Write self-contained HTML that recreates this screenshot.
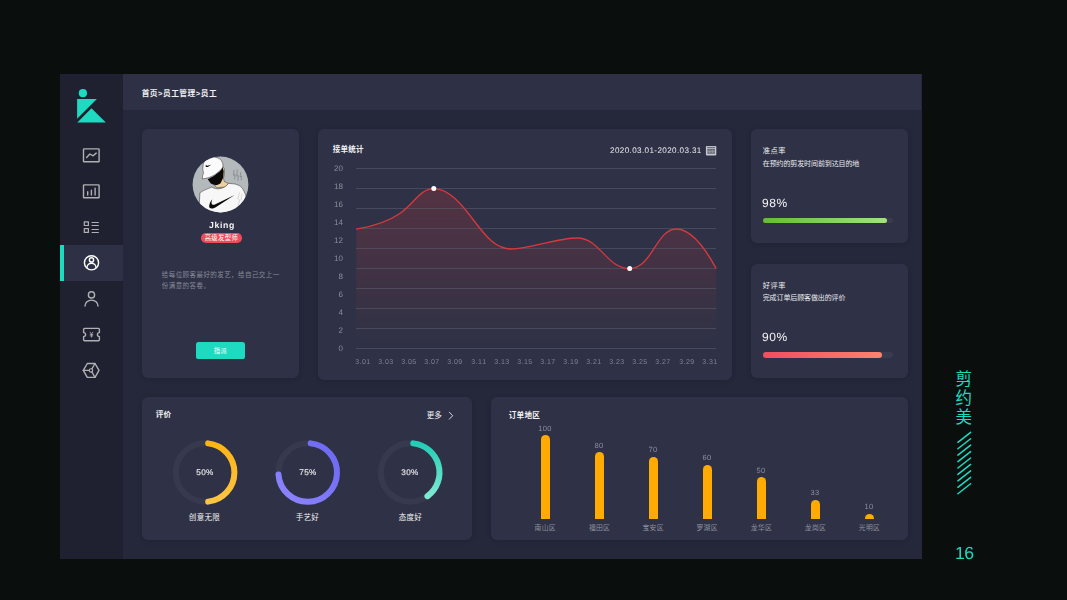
<!DOCTYPE html><html lang="zh"><head><meta charset="utf-8"><title>剪约美 员工</title><style>
*{margin:0;padding:0;box-sizing:border-box}
html,body{width:1067px;height:600px;overflow:hidden;background:#0a0f0e}
body{position:relative;font-family:"Liberation Sans",sans-serif;color:#f2f2f4}
.abs,.t{position:absolute}
svg.t{overflow:visible;display:block}
svg.t text{font-family:"Liberation Sans","Noto Sans CJK SC",sans-serif}
.dash{left:60px;top:74px;width:861.5px;height:484.7px;background:#25283a}
.side{left:60px;top:74px;width:62.7px;height:484.7px;background:#1f2130}
.head{left:122.7px;top:74px;width:798.8px;height:36.4px;background:#2e3145}
.card{background:#2f3246;border-radius:6px;box-shadow:0 1px 5px rgba(10,12,25,.18)}
.active{left:60px;top:244.5px;width:62.7px;height:36.3px;background:#2e3145}
.activebar{left:60px;top:244.5px;width:4px;height:36.3px;background:#1ddac0}
.lat{position:absolute;white-space:nowrap;line-height:1;will-change:transform;text-rendering:geometricPrecision;font-kerning:none}
.ylab{font-size:8px;color:#8b8e9c;text-align:right;width:20px;letter-spacing:0}
.xlab{font-size:7px;color:#7f8291;text-align:center;width:24px;letter-spacing:.45px}
.vlab{font-size:7.5px;color:#8b8e9c;text-align:center;width:30px;letter-spacing:.4px}
.bar{position:absolute;width:9.4px;background:#ffab03;border-radius:4.7px 4.7px 0 0}
</style></head><body><div class="abs dash"></div><div class="abs side"></div><div class="abs head"></div><svg class="t" style="left:60px;top:74px" width="63" height="485" viewBox="60 74 63 485" fill="none">
<circle cx="82.9" cy="93.2" r="4.1" fill="#1ddac0"/>
<path d="M77.1 99H96.9L77.1 118.8Z" fill="#1ddac0"/>
<path d="M91.5 108.3L105.8 122.6H77.3Z" fill="#1ddac0"/>
</svg><div class="abs active"></div><div class="abs activebar"></div><svg class="t" style="left:60px;top:74px" width="63" height="485" viewBox="60 74 63 485" fill="none" stroke="#b0b0b3" stroke-width="1.4" stroke-linecap="round" stroke-linejoin="round">
<rect x="83.5" y="148.9" width="15.6" height="12.9" rx=".6"/>
<path d="M86.6 157.5L89.9 154L93.1 155.8L96.2 153.1"/>
<rect x="83.5" y="184.9" width="15.6" height="12.9" rx=".6"/>
<path d="M87.7 195V191.8M91.4 195V190.2M95.1 195V188.1"/>
<rect x="84.3" y="221.8" width="4.1" height="3.7" stroke-width="1.2"/>
<rect x="84.3" y="228.7" width="4.1" height="3.7" stroke-width="1.2"/>
<path d="M91.6 222.5H98.8M91.6 225.5H98.8M91.6 229.5H98.8M91.6 232.5H98.8" stroke-linecap="butt" stroke-width="1.2"/>
<g stroke="#fff" stroke-width="1.4"><circle cx="91.5" cy="262.8" r="7.1"/><circle cx="91.5" cy="259.9" r="2.1"/><path d="M87 267.6A4.5 4.4 0 0 1 96 267.6"/></g>
<circle cx="91.5" cy="294.9" r="3.1"/>
<path d="M85 306.1A6.5 6 0 0 1 98 306.1"/>
<path d="M84.6 328.4H98.4A1 1 0 0 1 99.4 329.4V332.6A2 2 0 0 0 99.4 336.6V339.8A1 1 0 0 1 98.4 340.8H84.6A1 1 0 0 1 83.6 339.8V336.6A2 2 0 0 0 83.6 332.6V329.4A1 1 0 0 1 84.6 328.4Z"/>
<path d="M90.2 332.3L91.5 334.2L92.8 332.3M91.5 334.2V337.2M90.2 334.6H92.8M90.2 335.9H92.8" stroke-width=".8"/>
<path d="M83.3 370.4L87.3 363.5H95L99 370.4L95 377.4H87.3Z"/>
<circle cx="91" cy="370.4" r="1.7" stroke-width="1.1"/>
<path d="M83.3 370.4H89.3M91.9 368.9L95 363.5M91.9 371.9L95 377.4" stroke-width="1.3"/>
</svg><svg class="t" style="left:140.50px;top:87.72px" width="76.50" height="9.36" fill="#f0f0f3"><text x="0.63" y="7.60" font-size="7.7" font-weight="bold" letter-spacing="0.5">首页&gt;员工管理&gt;员工</text></svg><div class="abs card" style="left:141.5px;top:129px;width:157.7px;height:248.7px"></div><svg class="t" style="left:192.4px;top:156px" width="57" height="57" viewBox="-28.5 -28.5 57 57">
<defs><clipPath id="av"><circle r="27.9"/></clipPath></defs>
<circle r="27.9" fill="#b4b9bc"/>
<g clip-path="url(#av)" stroke-linejoin="round">
<path d="M-22 30L-21.1 18.1L-20.6 8.3C-17 5.5-12 4-8.7 2.6C-4 5.5 3 5 7.9-1.2L14.6-.5C18 .5 20 1.6 21.3 3.1C23.5 6 24.7 9 25.4 11.9L28 30Z" fill="#f7f7f7" stroke="#2a2a2a" stroke-width=".5"/>
<path d="M2-18.3L3.7-16L4-10.9L3-6.2L3.7-3.1L7.9-1C6 1.5 4.5 2.3 3.2 2.6L-3.5 3.3L-6.1 1L.1-1.6Z" fill="#ecd09f" stroke="#2a2a2a" stroke-width=".45"/>
<path d="M-12.8-5.2L-7.1-8.3L-.9-12.9L2.2-17L3.2-12.9L2.7-6.7L.1-1.6C-1.5 -.2-3.3 .4-5.1 .5C-6.8 .3-8.3-.3-9.7-1Z" fill="#0a0a0a"/>
<path d="M-17.3-20.2C-16.9-21.6-16.3-22.8-15.4-23.8C-13.5-25.7-11.2-26.8-8.7-27.4C-6-27.7-3.3-27-.9-25.8C.6-24.6 1.6-23 2.2-21.2C2.5-20 2.5-18.8 2.4-17.6C1.6-16 .4-14.6-.9-13.4L-5.6-9.8C-7.7-8.6-9.9-7.6-12.3-6.7L-18.3-5.5C-18.2-7.8-17.7-9.9-16.9-11.9C-17.5-13.2-17.8-14.6-17.7-16Z" fill="#fbfbfb" stroke="#2a2a2a" stroke-width=".5"/>
<path d="M-15-18.6C-14.6-17.3-13.4-17.2-12.3-17.8L-8.9-19.9C-10.6-19.4-12-18.8-13.2-18.8C-14-18.8-14.5-19.2-14.3-20Z" fill="#111"/>
<path d="M14.1 10.6L-4 22.2C-5.6 23.3-7.2 24-8.7 24C-10.6 23.8-11.6 22.7-11.3 21.4C-11.2 20.1-10.9 19-10.4 17.9C-9.8 16.8-9 15.7-8 14.8C-8.7 16.2-9.1 17.5-8.9 18.9C-8.5 20.2-7.4 20.5-6.1 20.2Z" fill="#0a0a0a"/>
<path d="M13.5-14.5L13-9.3L14.6-9.8L14.1-5.2M16.8-15L16.3-8.3L17.9-8.8L17.4-3.6M20.3-12.4L19.7-7.8L21.1-8.3L20.6-4.1" stroke="#6b6f72" stroke-width=".55" fill="none"/>
<path d="M19 8L17.5 14L19 15.5L18 21M21.5 9L20.5 16" stroke="#999" stroke-width=".35" fill="none"/>
</g></svg><div class="lat" style="left:171.9px;width:100px;text-align:center;top:220.9px;font-size:8.7px;font-weight:bold;letter-spacing:.62px;color:#f4f4f6">Jking</div><div class="abs" style="left:201.1px;top:233px;width:40.8px;height:9.6px;border-radius:4.8px;background:#f0495b"></div><svg class="t" style="left:203.98px;top:233.85px" width="34.43" height="7.90" fill="#fff"><text x="0.64" y="6.35" font-size="6.3" letter-spacing="0.4">高级发型师</text></svg><svg class="t" style="left:161.00px;top:270.13px" width="118.95" height="8.34" fill="#868997"><text x="0.82" y="6.56" font-size="6.5" letter-spacing="0.43">给每位顾客最好的发艺，给自己交上一</text></svg><svg class="t" style="left:161.00px;top:281.34px" width="45.69" height="8.11" fill="#868997"><text x="0.83" y="6.55" font-size="6.5" letter-spacing="0.43">份满意的答卷。</text></svg><div class="abs" style="left:195.9px;top:342.2px;width:49.3px;height:17px;border-radius:2.6px;background:#1ddac0"></div><svg class="t" style="left:213.21px;top:346.96px" width="14.58" height="7.88" fill="#fff"><text x="0.83" y="6.32" font-size="6.3" letter-spacing="0.3">指派</text></svg><div class="abs card" style="left:317.8px;top:129px;width:414.2px;height:251.2px"></div><svg class="t" style="left:332.20px;top:144.92px" width="32.34" height="9.16" fill="#f2f2f4"><text x="0.84" y="7.44" font-size="7.5" font-weight="bold" letter-spacing="0.25">接单统计</text></svg><div class="lat" style="right:365.8px;top:147px;font-size:8.1px;letter-spacing:.38px;color:#ececf0">2020.03.01-2020.03.31</div><svg class="t" style="left:705px;top:145px" width="12" height="11" viewBox="705 145 12 11">
<rect x="705.9" y="145.9" width="10.4" height="9.7" rx="1" fill="#c6c6ce"/>
<path d="M707.2 147.4H715" stroke="#3a3d50" stroke-width=".7"/>
<rect x="707.4" y="149" width="7.5" height="5" fill="#747684"/>
<path d="M707.4 149.2H714.9" stroke="#4a4c5c" stroke-width=".6"/>
<path d="M709.9 149.4V154M712.4 149.4V154M707.4 151.5H714.9" stroke="#a5a6b0" stroke-width=".45"/>
</svg><svg class="t" style="left:317.8px;top:129px" width="414.2" height="251.2" viewBox="317.8 129 414.2 251.2"><defs><linearGradient id="ar" x1="0" y1="188" x2="0" y2="345" gradientUnits="userSpaceOnUse"><stop offset="0" stop-color="#b8363a" stop-opacity=".27"/><stop offset=".55" stop-color="#b8363a" stop-opacity=".13"/><stop offset="1" stop-color="#b83c3c" stop-opacity=".0"/></linearGradient></defs><path d="M356 229.2C372 226.5 388 221.5 400 213.2C414 203.5 420 188.6 433.6 188.6C449 188.6 462 205 474 221C486 237 496 249 511 249C530 249 556 238 577 238C600 238 606 268.6 629.5 268.6C652 268.6 656 229 676 229C692 229 706 250 716 268.6V348.5H356Z" fill="url(#ar)"/><path d="M356 168.5H716" stroke="#585b6e" stroke-width="1" opacity=".62"/><path d="M356 188.5H716" stroke="#585b6e" stroke-width="1" opacity=".62"/><path d="M356 208.5H716" stroke="#585b6e" stroke-width="1" opacity=".62"/><path d="M356 228.5H716" stroke="#585b6e" stroke-width="1" opacity=".62"/><path d="M356 248.5H716" stroke="#585b6e" stroke-width="1" opacity=".62"/><path d="M356 268.5H716" stroke="#585b6e" stroke-width="1" opacity=".62"/><path d="M356 288.5H716" stroke="#585b6e" stroke-width="1" opacity=".62"/><path d="M356 308.5H716" stroke="#585b6e" stroke-width="1" opacity=".62"/><path d="M356 328.5H716" stroke="#585b6e" stroke-width="1" opacity=".62"/><path d="M356 348.5H716" stroke="#585b6e" stroke-width="1" opacity=".62"/><path d="M356 229.2C372 226.5 388 221.5 400 213.2C414 203.5 420 188.6 433.6 188.6C449 188.6 462 205 474 221C486 237 496 249 511 249C530 249 556 238 577 238C600 238 606 268.6 629.5 268.6C652 268.6 656 229 676 229C692 229 706 250 716 268.6" fill="none" stroke="#d8383e" stroke-width="1.3"/><circle cx="433.6" cy="188.6" r="2.5" fill="#fff"/><circle cx="629.5" cy="268.6" r="2.5" fill="#fff"/></svg><div class="lat ylab" style="left:322.8px;top:344.50px">0</div><div class="lat ylab" style="left:322.8px;top:326.56px">2</div><div class="lat ylab" style="left:322.8px;top:308.62px">4</div><div class="lat ylab" style="left:322.8px;top:290.68px">6</div><div class="lat ylab" style="left:322.8px;top:272.74px">8</div><div class="lat ylab" style="left:322.8px;top:254.80px">10</div><div class="lat ylab" style="left:322.8px;top:236.86px">12</div><div class="lat ylab" style="left:322.8px;top:218.92px">14</div><div class="lat ylab" style="left:322.8px;top:200.98px">16</div><div class="lat ylab" style="left:322.8px;top:183.04px">18</div><div class="lat ylab" style="left:322.8px;top:165.10px">20</div><div class="lat xlab" style="left:351.00px;top:358.60px">3.01</div><div class="lat xlab" style="left:374.11px;top:358.60px">3.03</div><div class="lat xlab" style="left:397.21px;top:358.60px">3.05</div><div class="lat xlab" style="left:420.32px;top:358.60px">3.07</div><div class="lat xlab" style="left:443.43px;top:358.60px">3.09</div><div class="lat xlab" style="left:466.54px;top:358.60px">3.11</div><div class="lat xlab" style="left:489.64px;top:358.60px">3.13</div><div class="lat xlab" style="left:512.75px;top:358.60px">3.15</div><div class="lat xlab" style="left:535.86px;top:358.60px">3.17</div><div class="lat xlab" style="left:558.96px;top:358.60px">3.19</div><div class="lat xlab" style="left:582.07px;top:358.60px">3.21</div><div class="lat xlab" style="left:605.18px;top:358.60px">3.23</div><div class="lat xlab" style="left:628.28px;top:358.60px">3.25</div><div class="lat xlab" style="left:651.39px;top:358.60px">3.27</div><div class="lat xlab" style="left:674.50px;top:358.60px">3.29</div><div class="lat xlab" style="left:697.61px;top:358.60px">3.31</div><div class="abs card" style="left:750.5px;top:129px;width:157.5px;height:114.2px"></div><svg class="t" style="left:761.80px;top:145.93px" width="24.06" height="8.74" fill="#f2f2f4"><text x="0.70" y="7.13" font-size="7.2" letter-spacing="0.55">准点率</text></svg><svg class="t" style="left:761.80px;top:159.02px" width="98.14" height="8.56" fill="#ececf0"><text x="0.78" y="6.94" font-size="7" letter-spacing="-0.11">在预约的剪发时间前到达目的地</text></svg><div class="lat" style="left:762.3px;top:197px;font-size:12px;letter-spacing:.6px;color:#f4f4f6">98%</div><div class="abs" style="left:763.3px;top:217.5px;width:129.7px;height:5.8px;border-radius:3px;background:#393c50"></div><div class="abs" style="left:763.3px;top:217.5px;width:123.3px;height:5.8px;border-radius:3px;background:linear-gradient(90deg,#67bb35,#a3e27c)"></div><div class="abs card" style="left:750.5px;top:263.5px;width:157.5px;height:114.5px"></div><svg class="t" style="left:761.80px;top:280.63px" width="24.20" height="8.74" fill="#f2f2f4"><text x="0.84" y="7.13" font-size="7.2" letter-spacing="0.55">好评率</text></svg><svg class="t" style="left:761.80px;top:293.19px" width="84.33" height="8.63" fill="#ececf0"><text x="0.72" y="6.98" font-size="7" letter-spacing="-0.11">完成订单后顾客做出的评价</text></svg><div class="lat" style="left:762.3px;top:331.4px;font-size:12px;letter-spacing:.6px;color:#f4f4f6">90%</div><div class="abs" style="left:763.3px;top:352.1px;width:129.7px;height:5.8px;border-radius:3px;background:#393c50"></div><div class="abs" style="left:763.3px;top:352.1px;width:118.4px;height:5.8px;border-radius:3px;background:linear-gradient(90deg,#f04e5e,#f9856b)"></div><div class="abs card" style="left:141.8px;top:397.2px;width:330.6px;height:142.8px"></div><svg class="t" style="left:155.30px;top:410.39px" width="16.98" height="9.22" fill="#f2f2f4"><text x="0.73" y="7.48" font-size="7.6" font-weight="bold" letter-spacing="0.2">评价</text></svg><svg class="t" style="left:426.00px;top:410.80px" width="16.49" height="9.00" fill="#f2f2f4"><text x="0.68" y="7.35" font-size="7.5" letter-spacing="0.2">更多</text></svg><svg class="t" style="left:446px;top:410px" width="10" height="12" viewBox="446 410 10 12" fill="none" stroke="#e8e8ec" stroke-width=".9" stroke-linecap="round" stroke-linejoin="round"><path d="M449.3 412.2L452.7 415.7L449.3 419.2"/></svg><svg class="t" style="left:141.8px;top:397.5px" width="330.6" height="142.5" viewBox="141.8 397.5 330.6 142.5" fill="none" stroke-width="6" stroke-linecap="round"><defs><linearGradient id="d1" x1="0" y1="0" x2="0" y2="1"><stop offset="0" stop-color="#fdb415"/><stop offset="1" stop-color="#fdc542"/></linearGradient><linearGradient id="d2" x1="1" y1="0" x2="0" y2="1"><stop offset="0" stop-color="#6a68f2"/><stop offset="1" stop-color="#8f85ff"/></linearGradient><linearGradient id="d3" x1="0" y1="0" x2="0" y2="1"><stop offset="0" stop-color="#22cdb6"/><stop offset="1" stop-color="#7fe9d2"/></linearGradient></defs><circle cx="204.9" cy="472" r="29.3" stroke="#373a4e"/><path d="M207.96 442.86A29.30 29.30 0 0 1 207.96 501.14" stroke="url(#d1)"/><circle cx="307.5" cy="472" r="29.3" stroke="#373a4e"/><path d="M310.56 442.86A29.30 29.30 0 1 1 278.27 474.04" stroke="url(#d2)"/><circle cx="410.0" cy="472" r="29.3" stroke="#373a4e"/><path d="M413.06 442.86A29.30 29.30 0 0 1 427.22 495.70" stroke="url(#d3)"/></svg><div class="lat" style="left:185.2px;width:40px;text-align:center;top:469px;font-size:8.2px;letter-spacing:.3px;color:#e6e6ea;-webkit-text-stroke:.15px #e6e6ea">50%</div><div class="lat" style="left:287.8px;width:40px;text-align:center;top:469px;font-size:8.2px;letter-spacing:.3px;color:#e6e6ea;-webkit-text-stroke:.15px #e6e6ea">75%</div><div class="lat" style="left:390.3px;width:40px;text-align:center;top:469px;font-size:8.2px;letter-spacing:.3px;color:#e6e6ea;-webkit-text-stroke:.15px #e6e6ea">30%</div><svg class="t" style="left:188.45px;top:513.08px" width="32.50" height="9.04" fill="#f2f2f4"><text x="0.83" y="7.40" font-size="7.5" letter-spacing="0.3">创意无限</text></svg><svg class="t" style="left:295.26px;top:513.12px" width="24.48" height="8.97" fill="#f2f2f4"><text x="0.66" y="7.33" font-size="7.5" letter-spacing="0.3">手艺好</text></svg><svg class="t" style="left:397.74px;top:513.09px" width="24.52" height="9.02" fill="#f2f2f4"><text x="0.69" y="7.38" font-size="7.5" letter-spacing="0.3">态度好</text></svg><div class="abs card" style="left:491.4px;top:397.3px;width:416.6px;height:142.5px"></div><svg class="t" style="left:507.80px;top:410.74px" width="32.65" height="9.12" fill="#f2f2f4"><text x="0.67" y="7.46" font-size="7.6" font-weight="bold" letter-spacing="0.3">订单地区</text></svg><div class="bar" style="left:540.60px;top:435.40px;height:83.60px"></div><div class="lat vlab" style="left:529.80px;top:424.90px">100</div><svg class="t" style="left:534.15px;top:523.06px" width="22.30" height="8.28" fill="#8d909e"><text x="0.61" y="6.72" font-size="6.8" letter-spacing="0.3">南山区</text></svg><div class="bar" style="left:594.80px;top:452.10px;height:66.90px"></div><div class="lat vlab" style="left:584.00px;top:441.60px">80</div><svg class="t" style="left:588.21px;top:523.07px" width="22.59" height="8.27" fill="#8d909e"><text x="0.89" y="6.71" font-size="6.8" letter-spacing="0.3">福田区</text></svg><div class="bar" style="left:648.60px;top:456.60px;height:62.40px"></div><div class="lat vlab" style="left:637.80px;top:446.10px">70</div><svg class="t" style="left:642.19px;top:523.02px" width="22.22" height="8.36" fill="#8d909e"><text x="0.52" y="6.80" font-size="6.8" letter-spacing="0.3">宝安区</text></svg><div class="bar" style="left:702.70px;top:464.50px;height:54.50px"></div><div class="lat vlab" style="left:691.90px;top:454.00px">60</div><svg class="t" style="left:696.30px;top:523.07px" width="22.20" height="8.26" fill="#8d909e"><text x="0.50" y="6.66" font-size="6.8" letter-spacing="0.3">罗湖区</text></svg><div class="bar" style="left:756.70px;top:477.00px;height:42.00px"></div><div class="lat vlab" style="left:745.90px;top:466.50px">50</div><svg class="t" style="left:750.15px;top:523.04px" width="22.49" height="8.32" fill="#8d909e"><text x="0.80" y="6.75" font-size="6.8" letter-spacing="0.3">龙华区</text></svg><div class="bar" style="left:810.90px;top:499.60px;height:19.40px"></div><div class="lat vlab" style="left:800.10px;top:489.10px">33</div><svg class="t" style="left:804.36px;top:523.05px" width="22.49" height="8.30" fill="#8d909e"><text x="0.80" y="6.75" font-size="6.8" letter-spacing="0.3">龙岗区</text></svg><div class="bar" style="left:864.70px;top:513.70px;height:5.30px"></div><div class="lat vlab" style="left:853.90px;top:503.20px">10</div><svg class="t" style="left:858.15px;top:523.02px" width="22.50" height="8.36" fill="#8d909e"><text x="0.80" y="6.74" font-size="6.8" letter-spacing="0.3">光明区</text></svg><svg class="t" style="left:955.47px;top:369.71px" width="17.46" height="55.38" fill="#1ddac0"><text x="0.51" y="15.01" font-size="16.5">剪</text><text x="0.51" y="34.01" font-size="16.5">约</text><text x="0.51" y="53.01" font-size="16.5">美</text></svg><svg class="t" style="left:955px;top:430px" width="20" height="66" viewBox="955 430 20 66" stroke="#1ddac0" stroke-width="1.5" stroke-linecap="round"><path d="M957.9 442.30L970.6 432.30"/><path d="M957.9 448.73L970.6 438.73"/><path d="M957.9 455.16L970.6 445.16"/><path d="M957.9 461.59L970.6 451.59"/><path d="M957.9 468.02L970.6 458.02"/><path d="M957.9 474.45L970.6 464.45"/><path d="M957.9 480.88L970.6 470.88"/><path d="M957.9 487.31L970.6 477.31"/><path d="M957.9 493.74L970.6 483.74"/></svg><div class="lat" style="left:955px;top:544.5px;font-size:17.6px;letter-spacing:-.55px;color:#1ddac0">16</div></body></html>
